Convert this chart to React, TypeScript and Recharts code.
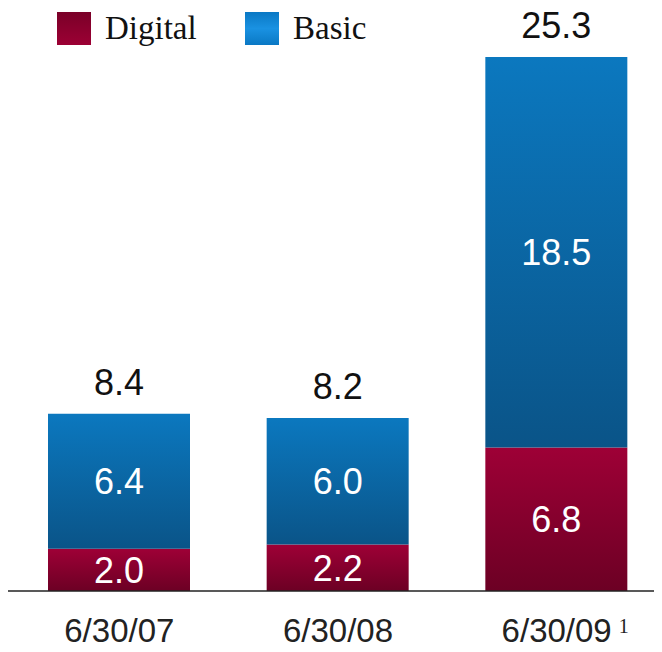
import React from "react";
import { BarChart, Bar, XAxis, YAxis, LabelList } from "recharts";

const categories = ["6/30/07", "6/30/08", "6/30/09"];
const footnotes = ["", "", "1"];
const digital = [2.0, 2.2, 6.8];
const basic = [6.4, 6.0, 18.5];
const totals = [8.4, 8.2, 25.3];
const seriesNames = ["Digital", "Basic"];

const data = categories.map((c, i) => ({
  date: c,
  note: footnotes[i],
  digital: digital[i],
  basic: basic[i],
  total: totals[i],
}));

const SANS = "'Liberation Sans', Arial, sans-serif";
const SERIF = "'Liberation Serif', 'Times New Roman', serif";

const LegendBox = () => {
  const xs = [57, 245];
  const fills = ["url(#legDigital)", "url(#legBasic)"];
  return (
    <svg
      width={662}
      height={60}
      style={{ position: "absolute", left: 0, top: 0, display: "block" }}
    >
      <defs>
        <linearGradient id="legDigital" x1="0" y1="0" x2="0" y2="1">
          <stop offset="0%" stopColor="#7a0028" />
          <stop offset="100%" stopColor="#9c0034" />
        </linearGradient>
        <linearGradient id="legBasic" x1="0" y1="0" x2="0" y2="1">
          <stop offset="0%" stopColor="#0a78c4" />
          <stop offset="50%" stopColor="#1a92e2" />
          <stop offset="100%" stopColor="#0a78c4" />
        </linearGradient>
      </defs>
      {seriesNames.map((name, i) => (
        <g key={name}>
          <rect x={xs[i]} y={12} width={34} height={33} fill={fills[i]} />
          <text x={xs[i] + 48} y={39} fontFamily={SERIF} fontSize={33} fill="#111">
            {name}
          </text>
        </g>
      ))}
    </svg>
  );
};

const DateTick = (props: any) => {
  const { x, y, payload } = props;
  const note = footnotes[categories.indexOf(payload.value)];
  return (
    <g>
      <text x={x} y={y + 51} textAnchor="middle" fontFamily={SANS} fontSize={33} fill="#222">
        {payload.value}
      </text>
      {note ? (
        <text x={x + 62} y={y + 42} fontFamily={SERIF} fontSize={20} fill="#222">
          {note}
        </text>
      ) : null}
    </g>
  );
};

export default function App() {
  return (
    <div
      style={{
        marginLeft: -8,
        marginTop: -8,
        width: 662,
        height: 652,
        overflow: "hidden",
        position: "relative",
        background: "#fff",
      }}
    >
      <BarChart
        width={680}
        height={652}
        data={data}
        margin={{ top: 57, right: 14, left: 8, bottom: 0 }}
      >
        <defs>
          <linearGradient id="gDigital" x1="0" y1="0" x2="0" y2="1">
            <stop offset="0%" stopColor="#9e0036" />
            <stop offset="100%" stopColor="#6c0024" />
          </linearGradient>
          <linearGradient id="gBasic" x1="0" y1="0" x2="0" y2="1">
            <stop offset="0%" stopColor="#0b78bf" />
            <stop offset="100%" stopColor="#0a5488" />
          </linearGradient>
        </defs>
        <XAxis
          dataKey="date"
          height={61}
          padding={{ left: 2, right: 0 }}
          axisLine={{ stroke: "#222", strokeWidth: 1.5 }}
          tickLine={false}
          tickSize={0}
          tickMargin={0}
          tick={<DateTick />}
          interval={0}
        />
        <YAxis hide domain={[0, 25.3]} />
        <Bar
          dataKey="digital"
          name={seriesNames[0]}
          stackId="a"
          fill="url(#gDigital)"
          barSize={142}
          isAnimationActive={false}
        >
          <LabelList
            dataKey="digital"
            position="center"
            fill="#fff"
            fontSize={36}
            fontFamily={SANS}
            formatter={(v: any) => Number(v).toFixed(1)}
          />
        </Bar>
        <Bar
          dataKey="basic"
          name={seriesNames[1]}
          stackId="a"
          fill="url(#gBasic)"
          barSize={142}
          isAnimationActive={false}
        >
          <LabelList
            dataKey="basic"
            position="center"
            fill="#fff"
            fontSize={36}
            fontFamily={SANS}
            formatter={(v: any) => Number(v).toFixed(1)}
          />
          <LabelList
            dataKey="total"
            position="top"
            offset={19}
            fill="#111"
            fontSize={36}
            fontFamily={SANS}
            formatter={(v: any) => Number(v).toFixed(1)}
          />
        </Bar>
      </BarChart>
      <LegendBox />
    </div>
  );
}
